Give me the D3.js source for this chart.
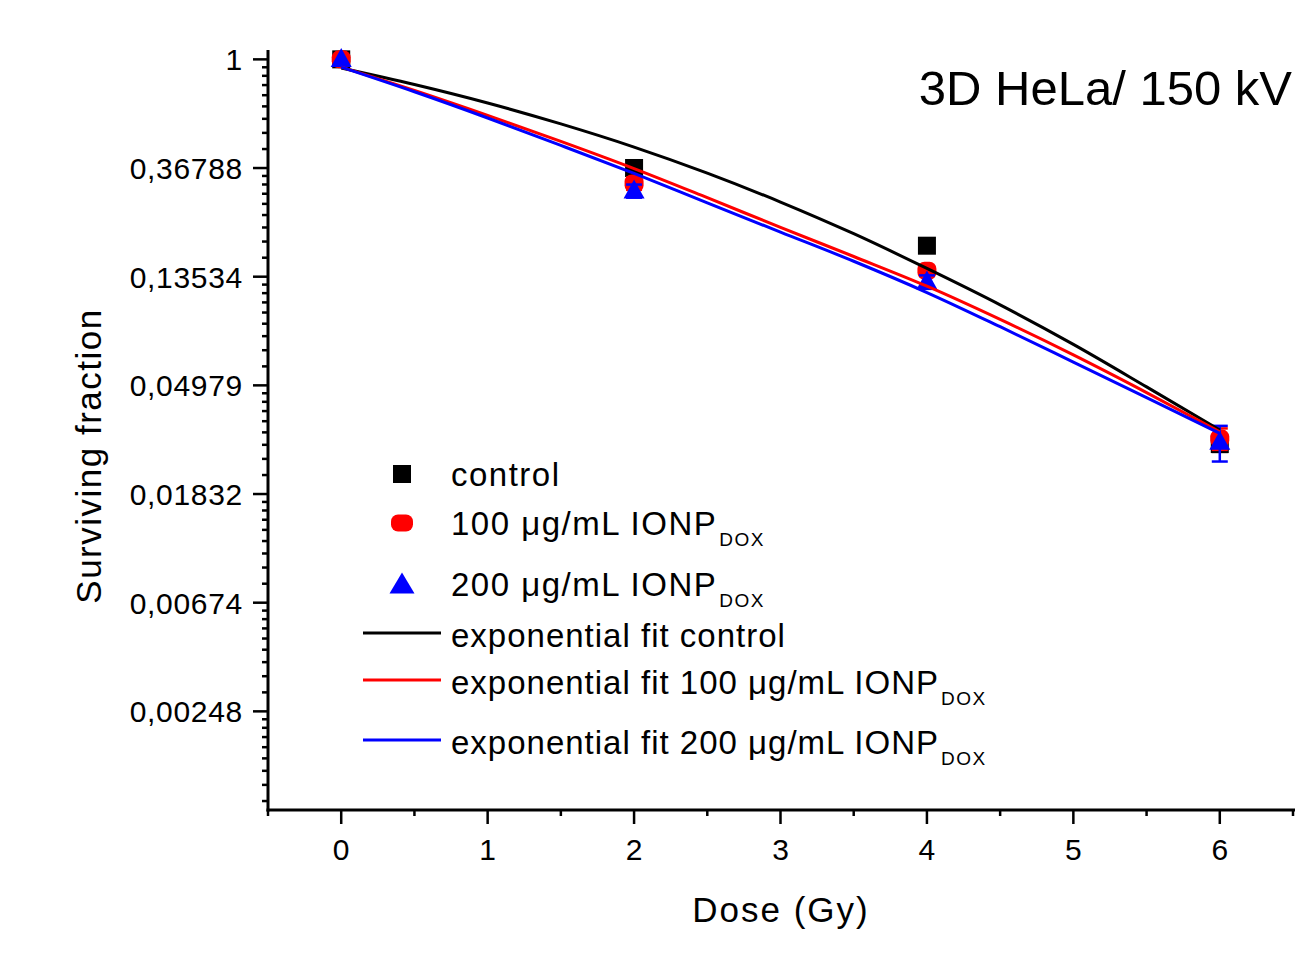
<!DOCTYPE html>
<html>
<head>
<meta charset="utf-8">
<script src="https://cdn.jsdelivr.net/npm/d3@7"></script>
<style>
  body { margin: 0; background: #fff; }
  text { font-family: "Liberation Sans", Arial, sans-serif; fill: #000; }
</style>
</head>
<body>
<svg width="1295" height="954"></svg>
<script>
// measured points
var doses = [0, 2, 4, 6];
var control = [1.0, 0.368, 0.180, 0.0290];
var controlErr = [0, 0.008, 0.006, 0.002];
var ionp100 = [1.0, 0.319, 0.143, 0.0305];
var ionp100Err = [0, 0.018, 0.006, 0.003];
var ionp200 = [1.0, 0.298, 0.129, 0.0295];
var ionp200Err = [0, 0.018, 0.008, 0.0048];

// fit curves
var fitDoses = [0, 0.5, 1, 1.5, 2, 2.5, 3, 3.5, 4, 4.5, 5, 5.5, 6];
var fitControl = [0.923, 0.793, 0.669, 0.552, 0.446, 0.351, 0.269, 0.201, 0.146, 0.1044, 0.0726, 0.0491, 0.0330];
var fit100 = [0.931, 0.751, 0.597, 0.470, 0.366, 0.280, 0.213, 0.163, 0.124, 0.0913, 0.0659, 0.0466, 0.0325];
var fit200 = [0.931, 0.742, 0.583, 0.453, 0.350, 0.267, 0.204, 0.156, 0.117, 0.0854, 0.0617, 0.0445, 0.0320];

var yTickLabels = ["1", "0,36788", "0,13534", "0,04979", "0,01832", "0,00674", "0,00248"];
var xTicks = [0, 1, 2, 3, 4, 5, 6];

var svg = d3.select("svg");
var x = d3.scaleLinear().domain([-0.5, 6.5]).range([268, 1293]);
var y = d3.scaleLog().base(Math.E).domain([0.001, 1.09]).range([810, 50]);

var axes = svg.append("g");

// y axis
var yMajor = yTickLabels.map(function (d, i) { return Math.exp(-i); });
var yMinor = [];
for (var i = 0; i < 7; i++) {
    var hi = Math.exp(-i), lo = Math.exp(-i - 1);
    for (var k = 1; k <= 8; k++) {
        var v = lo + k * (hi - lo) / 9;
        if (v >= y.domain()[0]) yMinor.push(v);
    }
}
axes.append("line").attr("x1", 268).attr("x2", 268)
    .attr("y1", y.range()[1]).attr("y2", y.range()[0] + 1.5)
    .attr("stroke", "#000").attr("stroke-width", 3);
axes.selectAll(".ymaj").data(yMajor).enter().append("line")
    .attr("x1", 253).attr("x2", 268)
    .attr("y1", function (d) { return y(d); }).attr("y2", function (d) { return y(d); })
    .attr("stroke", "#000").attr("stroke-width", 2.5);
axes.selectAll(".ymin").data(yMinor).enter().append("line")
    .attr("x1", 262).attr("x2", 268)
    .attr("y1", function (d) { return y(d); }).attr("y2", function (d) { return y(d); })
    .attr("stroke", "#000").attr("stroke-width", 2.5);
axes.selectAll(".ylab").data(yMajor).enter().append("text")
    .attr("x", 243).attr("y", function (d) { return y(d) + 11; })
    .attr("text-anchor", "end")
    .style("font-size", "30px").style("letter-spacing", "0.7px")
    .text(function (d, i) { return yTickLabels[i]; });

// x axis
var xMinor = d3.range(-0.5, 6.51, 1);
axes.append("line").attr("x1", 266.5).attr("x2", 1295)
    .attr("y1", 810).attr("y2", 810)
    .attr("stroke", "#000").attr("stroke-width", 3);
axes.selectAll(".xmaj").data(xTicks).enter().append("line")
    .attr("x1", function (d) { return x(d); }).attr("x2", function (d) { return x(d); })
    .attr("y1", 810).attr("y2", 824)
    .attr("stroke", "#000").attr("stroke-width", 2.5);
axes.selectAll(".xmin").data(xMinor).enter().append("line")
    .attr("x1", function (d) { return x(d); }).attr("x2", function (d) { return x(d); })
    .attr("y1", 810).attr("y2", 816)
    .attr("stroke", "#000").attr("stroke-width", 2.5);
axes.selectAll(".xlab").data(xTicks).enter().append("text")
    .attr("x", function (d) { return x(d); }).attr("y", 860)
    .attr("text-anchor", "middle")
    .style("font-size", "30px")
    .text(function (d) { return d; });

// axis titles
svg.append("text").attr("x", 781).attr("y", 922).attr("text-anchor", "middle")
    .style("font-size", "35px").style("letter-spacing", "2px").text("Dose (Gy)");
svg.append("text").attr("transform", "translate(101,456) rotate(-90)")
    .attr("text-anchor", "middle")
    .style("font-size", "35px").style("letter-spacing", "1.5px").text("Surviving fraction");
svg.append("text").attr("x", 1292).attr("y", 105).attr("text-anchor", "end")
    .style("font-size", "49px").text("3D HeLa/ 150 kV");

// markers
function square(g, cx, cy, s, color) {
    g.append("rect").attr("x", cx - s / 2).attr("y", cy - s / 2)
        .attr("width", s).attr("height", s).attr("fill", color);
}
function roundDot(g, cx, cy, w, h, color) {
    g.append("rect").attr("x", cx - w / 2).attr("y", cy - h / 2)
        .attr("width", w).attr("height", h).attr("rx", 7).attr("ry", 7).attr("fill", color);
}
function triangle(g, cx, cy, w, h, color) {
    g.append("path")
        .attr("d", "M" + cx + "," + (cy - h * 0.6) + "L" + (cx + w / 2) + "," + (cy + h * 0.4) +
            "L" + (cx - w / 2) + "," + (cy + h * 0.4) + "Z")
        .attr("fill", color);
}

var series = [
    { vals: control, err: controlErr, color: "#000000", shape: "square" },
    { vals: ionp100, err: ionp100Err, color: "#ff0000", shape: "dot" },
    { vals: ionp200, err: ionp200Err, color: "#0000ff", shape: "tri" }
];

var pts = svg.append("g");
series.forEach(function (s) {
    doses.forEach(function (d, i) {
        var cx = x(d), cy = y(s.vals[i]);
        if (s.err[i] > 0) {
            var top = y(s.vals[i] + s.err[i]), bot = y(s.vals[i] - s.err[i]);
            pts.append("line").attr("x1", cx).attr("x2", cx).attr("y1", top).attr("y2", bot)
                .attr("stroke", s.color).attr("stroke-width", 2.5);
            [top, bot].forEach(function (yy) {
                pts.append("line").attr("x1", cx - 8).attr("x2", cx + 8).attr("y1", yy).attr("y2", yy)
                    .attr("stroke", s.color).attr("stroke-width", 2.5);
            });
        }
        if (s.shape == "square") square(pts, cx, cy, 18, s.color);
        else if (s.shape == "dot") roundDot(pts, cx, cy, 19, 18, s.color);
        else triangle(pts, cx, cy, 21, 19, s.color);
    });
});

// fit lines
var line = d3.line()
    .x(function (d) { return x(d[0]); })
    .y(function (d) { return y(d[1]); })
    .curve(d3.curveMonotoneX);
var fits = [
    { vals: fitControl, color: "#000000" },
    { vals: fit100, color: "#ff0000" },
    { vals: fit200, color: "#0000ff" }
];
fits.forEach(function (f) {
    svg.append("path")
        .datum(fitDoses.map(function (d, i) { return [d, f.vals[i]]; }))
        .attr("d", line)
        .attr("fill", "none")
        .attr("stroke", f.color)
        .attr("stroke-width", 3);
});

// legend
var legend = svg.append("g");
var legendItems = [
    { y: 486, text: "control", sub: "", kind: "square", color: "#000000" },
    { y: 535, text: "100 \u03bcg/mL IONP", sub: "DOX", kind: "dot", color: "#ff0000" },
    { y: 596, text: "200 \u03bcg/mL IONP", sub: "DOX", kind: "tri", color: "#0000ff" },
    { y: 647, text: "exponential fit control", sub: "", kind: "line", color: "#000000" },
    { y: 694, text: "exponential fit 100 \u03bcg/mL IONP", sub: "DOX", kind: "line", color: "#ff0000" },
    { y: 754, text: "exponential fit 200 \u03bcg/mL IONP", sub: "DOX", kind: "line", color: "#0000ff" }
];
legendItems.forEach(function (it) {
    var cy = it.y - 12;
    if (it.kind == "square") square(legend, 402, cy, 18, it.color);
    else if (it.kind == "dot") roundDot(legend, 402, cy, 22, 17, it.color);
    else if (it.kind == "tri") triangle(legend, 402, cy + 1, 25, 21, it.color);
    else legend.append("line").attr("x1", 363).attr("x2", 441)
        .attr("y1", it.y - 14).attr("y2", it.y - 14)
        .attr("stroke", it.color).attr("stroke-width", 3);
    var t = legend.append("text").attr("x", 451).attr("y", it.y)
        .style("font-size", "33px").style("letter-spacing", it.kind == "line" ? "1px" : "1.5px");
    t.append("tspan").text(it.text);
    if (it.sub) t.append("tspan").attr("dx", 2).attr("dy", 11).style("font-size", "19px")
        .style("letter-spacing", "1.5px").text(it.sub);
});
</script>
</body>
</html>
